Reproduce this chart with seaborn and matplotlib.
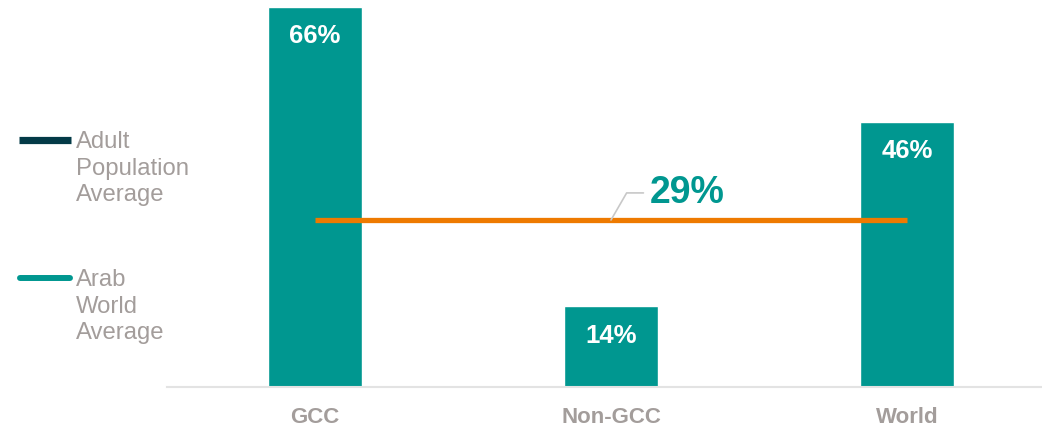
import matplotlib
matplotlib.use("Agg")
import matplotlib.pyplot as plt
from matplotlib.lines import Line2D
import pandas as pd
import seaborn as sns

# Share of respondents by region
regions = ["GCC", "Non-GCC", "World"]
shares = [66, 14, 46]
bar_labels = ["66%", "14%", "46%"]
average_value = 29
average_label = "29%"
legend_labels = ["Adult\nPopulation\nAverage", "Arab\nWorld\nAverage"]

TEAL = "#009790"
DARK = "#033A47"
ORANGE = "#EE7A00"
GREY_TEXT = "#A39D9B"

sns.set_theme(style="white")
plt.rcParams["font.family"] = ["Liberation Sans", "DejaVu Sans"]

df = pd.DataFrame({"region": regions, "share": shares})

fig = plt.figure(figsize=(10.42, 4.28), dpi=100)
ax = fig.add_axes([167 / 1042, 41 / 428, 1 - 167 / 1042, 1 - 41 / 428])

sns.barplot(data=df, x="region", y="share", color=TEAL, width=0.315,
            saturation=1, ax=ax)

ax.set_xlim(-0.5, 2.456)
ax.set_ylim(0, 67.2)

# value labels inside the top of each bar
for i, (v, lab) in enumerate(zip(shares, bar_labels)):
    ax.annotate(lab, xy=(i, v), xytext=(0, -21), textcoords="offset points",
                ha="center", va="center", color="white", fontsize=18.5,
                fontweight="bold")

# average line across the categories
ax.plot([0, 2], [average_value, average_value], color=ORANGE, lw=3.8,
        solid_capstyle="butt", zorder=3)
ax.annotate(average_label, xy=(1.0, average_value), xytext=(1.13, average_value + 4.7),
            ha="left", va="center", color=TEAL, fontsize=27, fontweight="bold",
            arrowprops=dict(arrowstyle="-", color="#C8C8C8", lw=1.2,
                            connectionstyle="angle,angleA=0,angleB=60,rad=0",
                            shrinkA=2, shrinkB=0))

# axes styling
for s in ["top", "right", "left"]:
    ax.spines[s].set_visible(False)
ax.spines["bottom"].set_color("#E3E3E3")
ax.spines["bottom"].set_linewidth(1.5)
ax.set_yticks([])
ax.set_xlabel("")
ax.set_ylabel("")
ax.tick_params(axis="x", length=0, pad=14.5, labelsize=16, labelcolor=GREY_TEXT)
for t in ax.get_xticklabels():
    t.set_fontweight("bold")

# legend drawn at the left margin
W, H = 1042, 428
fig.add_artist(Line2D([19 / W, 71 / W], [1 - 140 / H, 1 - 140 / H], color=DARK,
                      lw=5.2, solid_capstyle="butt", transform=fig.transFigure))
fig.add_artist(Line2D([20 / W, 70 / W], [1 - 278 / H, 1 - 278 / H], color=TEAL,
                      lw=4.3, solid_capstyle="round", transform=fig.transFigure))
fig.text(76 / W, 1 - 131 / H, legend_labels[0], ha="left", va="top",
         color=GREY_TEXT, fontsize=17.2, linespacing=1.27)
fig.text(76 / W, 1 - 269 / H, legend_labels[1], ha="left", va="top",
         color=GREY_TEXT, fontsize=17.2, linespacing=1.27)

fig.savefig("out.png", dpi=100)
